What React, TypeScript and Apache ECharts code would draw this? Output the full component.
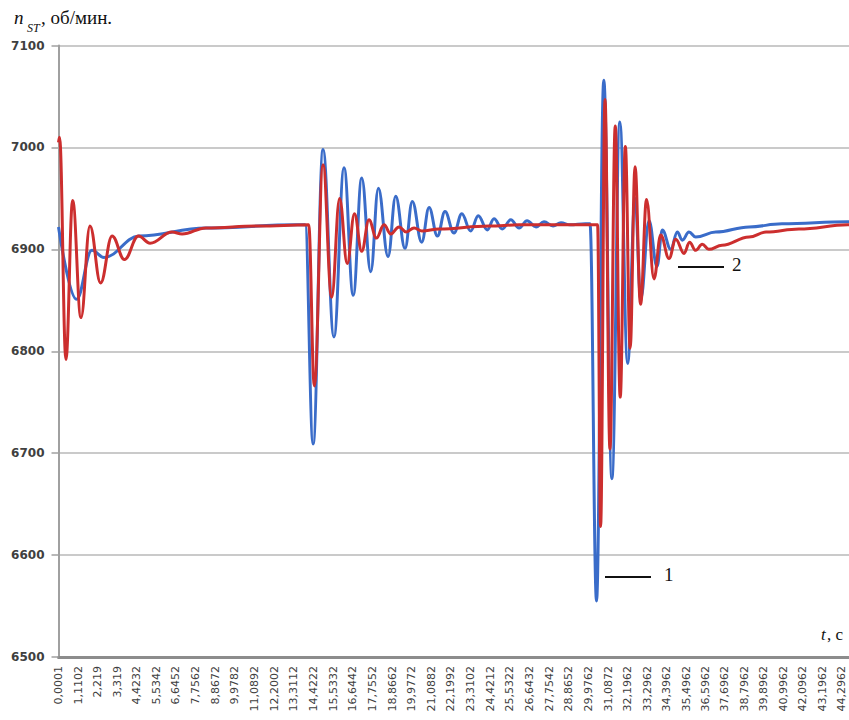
import React, { useEffect, useRef } from "react";
import * as echarts from "echarts";

// x-axis tick labels (time, s) as printed on the chart
const tickLabels = [
  "0,0001", "1,1102", "2,219", "3,319", "4,4232", "5,5342", "6,6452", "7,7562",
  "8,8672", "9,9782", "11,0892", "12,2002", "13,3112", "14,4222", "15,5332",
  "16,6442", "17,7552", "18,8662", "19,9772", "21,0882", "22,1992", "23,3102",
  "24,4212", "25,5322", "26,6432", "27,7542", "28,8652", "29,9762", "31,0872",
  "32,1962", "33,2962", "34,3962", "35,4962", "36,5962", "37,6962", "38,7962",
  "39,8962", "40,9962", "42,0962", "43,1962", "44,2962",
];
const tickTimes = tickLabels.map((s) => parseFloat(s.replace(",", ".")));

const yTicks = [6500, 6600, 6700, 6800, 6900, 7000, 7100];

// curve 1 (blue): time, s
const blueT = [
  0, 1.02, 1.89, 2.57, 4.55, 8.34, 13.5, 13.95, 14.4, 14.96, 15.58, 16.15, 16.67,
  17.15, 17.66, 18.09, 18.64, 19.07, 19.6, 20.01, 20.54, 20.96, 21.43, 21.86,
  22.37, 22.81, 23.31, 23.74, 24.25, 24.63, 25.1, 25.58, 26.05, 26.5, 27.01,
  27.46, 27.97, 28.42, 28.93, 29.8, 30.06, 30.43, 30.84, 31.3, 31.75, 32.19,
  32.61, 32.93, 33.4, 33.85, 34.15, 34.63, 35.0, 35.28, 35.66, 36.04, 37.17,
  39.06, 40.92, 44.65, 46,
];
// curve 1 (blue): speed, rpm
const blueV = [
  6922, 6851, 6899, 6892, 6913, 6921, 6924, 6924, 6709, 6998, 6814, 6980, 6855,
  6970, 6878, 6960, 6893, 6952, 6901, 6947, 6907, 6941, 6913, 6937,
  6916, 6935, 6918, 6933, 6919, 6930, 6920, 6929, 6921, 6928, 6922,
  6927, 6923, 6926, 6924, 6925, 6925, 6555, 7066, 6675, 7025, 6788,
  6950, 6851, 6928, 6883, 6919, 6900, 6917, 6909, 6917, 6912, 6917,
  6922, 6925, 6927, 6927,
];

// curve 2 (red): time, s
const redT = [
  0, 0.06, 0.42, 0.8, 1.27, 1.78, 2.38, 3.03, 3.73, 4.52, 5.18, 6.42, 6.99, 8.34,
  11.34, 14.15, 14.47, 14.96, 15.45, 15.9, 16.33, 16.74, 17.15, 17.56, 17.98,
  18.41, 18.79, 19.26, 19.67, 20.11, 20.56, 21.52, 24.35, 26.05, 30.49, 30.66,
  30.91, 31.19, 31.49, 31.77, 32.06, 32.33, 32.61, 32.92, 33.26, 33.68, 34.06,
  34.53, 34.91, 35.38, 35.69, 36.04, 36.41, 36.78, 37.53, 39.06, 40.02, 41.88,
  44.65, 46,
];
// curve 2 (red): speed, rpm
const redV = [
  7005, 7010, 6792, 6948, 6833, 6923, 6867, 6913, 6890, 6913, 6906, 6917, 6915, 6921,
  6923, 6924, 6766, 6983, 6853, 6950, 6886, 6935, 6898, 6929, 6911,
  6924, 6915, 6922, 6917, 6921, 6918, 6920, 6923, 6924, 6924, 6628,
  7047, 6704, 7021, 6755, 7001, 6803, 6981, 6846, 6949, 6871, 6914,
  6891, 6910, 6896, 6907, 6899, 6905, 6900, 6904, 6912, 6917, 6920,
  6924, 6925,
];

const W = 849;
const H = 720;

export default function App() {
  const ref = useRef<HTMLDivElement>(null);

  useEffect(() => {
    if (!ref.current) return;
    const chart = echarts.init(ref.current, undefined, { renderer: "svg" });
    const gridLeft = 58.5;
    const pxPerSec = 17.68;
    // the plot runs off the right edge of the picture
    const xMax = Math.round(((W - gridLeft) / pxPerSec) * 100) / 100;

    const serif = "'Liberation Serif', 'Times New Roman', serif";

    chart.setOption({
      animation: false,
      backgroundColor: "#ffffff",
      grid: { left: gridLeft, right: 0, top: 45.5, bottom: 63, containLabel: false },
      xAxis: {
        type: "value",
        min: 0,
        max: xMax,
        splitLine: { show: false },
        axisLine: { show: true, onZero: false, lineStyle: { color: "#8c8c8c", width: 3 } },
        axisTick: { show: false, customValues: tickTimes },
        axisLabel: {
          customValues: tickTimes,
          rotate: 90,
          margin: 9,
          hideOverlap: false,
          showMaxLabel: true,
          fontFamily: "'DejaVu Sans', sans-serif",
          fontSize: 11,
          color: "#404040",
          formatter: (v: number) => {
            const i = tickTimes.findIndex((t) => Math.abs(t - v) < 1e-6);
            return i >= 0 ? tickLabels[i] : "";
          },
        },
      },
      yAxis: {
        type: "value",
        min: yTicks[0],
        max: yTicks[yTicks.length - 1],
        interval: 100,
        axisLine: { show: true, lineStyle: { color: "#a0a0a0", width: 2 } },
        axisTick: { show: true, length: 7, lineStyle: { color: "#a0a0a0", width: 1.5 } },
        splitLine: { show: true, lineStyle: { color: "#b8b8b8", width: 1.5 } },
        axisLabel: {
          margin: 14,
          fontFamily: "'DejaVu Sans', sans-serif",
          fontSize: 12,
          fontWeight: "bold",
          color: "#404040",
          formatter: (v: number) => String(v),
        },
      },
      series: [
        {
          name: "1",
          type: "line",
          data: blueT.map((t, i) => [t, blueV[i]]),
          showSymbol: false,
          smooth: 0.4,
          smoothMonotone: "x",
          clip: true,
          lineStyle: { color: "#3a6cc9", width: 3 },
          itemStyle: { color: "#3a6cc9" },
        },
        {
          name: "2",
          type: "line",
          data: redT.map((t, i) => [t, redV[i]]),
          showSymbol: false,
          smooth: 0.4,
          smoothMonotone: "x",
          clip: true,
          lineStyle: { color: "#cc2e2e", width: 3 },
          itemStyle: { color: "#cc2e2e" },
        },
      ],
      graphic: [
        { type: "text", left: 14, top: 8, style: { text: "n", font: `italic 19px ${serif}`, fill: "#111" } },
        { type: "text", left: 27, top: 22, style: { text: "ST", font: `italic 12px ${serif}`, fill: "#111" } },
        { type: "text", left: 41, top: 8, style: { text: ", об/мин.", font: `19px ${serif}`, fill: "#111" } },
        { type: "text", left: 821, top: 626, style: { text: "t", font: `italic 17px ${serif}`, fill: "#111" } },
        { type: "text", left: 827, top: 626, style: { text: ", с", font: `17px ${serif}`, fill: "#111" } },
        { type: "line", shape: { x1: 605, y1: 577, x2: 651, y2: 577 }, style: { stroke: "#111", lineWidth: 2 } },
        { type: "text", left: 664, top: 565, style: { text: "1", font: `19px ${serif}`, fill: "#111" } },
        { type: "line", shape: { x1: 678, y1: 267, x2: 724, y2: 267 }, style: { stroke: "#111", lineWidth: 2 } },
        { type: "text", left: 732, top: 255, style: { text: "2", font: `19px ${serif}`, fill: "#111" } },
      ],
    });
    return () => chart.dispose();
  }, []);

  return (
    <div
      ref={ref}
      style={{ position: "absolute", left: 0, top: 0, width: W, height: H, background: "#fff" }}
    />
  );
}
